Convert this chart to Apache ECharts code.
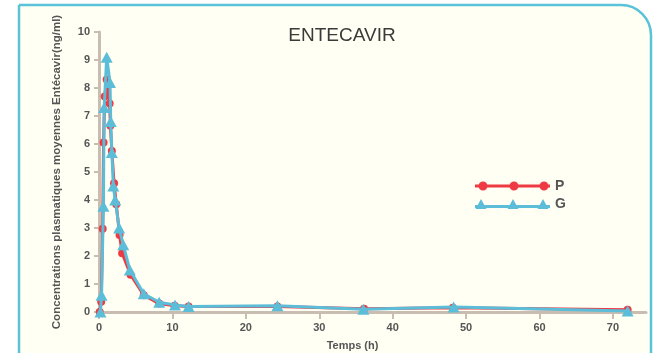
<!DOCTYPE html>
<html>
<head>
<meta charset="utf-8">
<script src="https://cdn.jsdelivr.net/npm/echarts@6/dist/echarts.min.js"></script>
<style>
html,body{margin:0;padding:0;background:#ffffff;}
#chart{width:653px;height:353px;}
</style>
</head>
<body>
<div id="chart"></div>
<script>
// ---- data ----
const titleText = 'ENTECAVIR';
const yAxisName = 'Concentrations plasmatiques moyennes Entécavir(ng/ml)';
const xAxisName = 'Temps (h)';
const seriesNames = ['P', 'G'];
const xTicks = [0, 10, 20, 30, 40, 50, 60, 70];

const pTime = [0.1, 0.3, 0.5, 0.62, 0.78, 1.05, 1.45, 1.55, 1.75, 2.05, 2.35, 2.8, 3.15, 4.3, 6.1, 8.2, 10.3, 12.2, 24.3, 36.1, 48.2, 72];
const pConc = [0, 0.37, 2.97, 6.05, 7.7, 8.3, 7.45, 6.65, 5.75, 4.6, 3.85, 2.75, 2.1, 1.33, 0.6, 0.3, 0.22, 0.2, 0.2, 0.12, 0.15, 0.08];

const gTime = [0.2, 0.35, 0.6, 0.7, 1.05, 1.5, 1.6, 1.75, 1.95, 2.2, 2.75, 3.3, 4.2, 6.1, 8.2, 10.35, 12.2, 24.3, 36, 48.3, 72];
const gConc = [0, 0.6, 3.78, 7.3, 9.1, 8.2, 6.8, 5.7, 4.5, 4.0, 3.0, 2.4, 1.5, 0.65, 0.35, 0.25, 0.2, 0.22, 0.1, 0.18, 0.04];

const pData = pTime.map((t, i) => [t, pConc[i]]);
const gData = gTime.map((t, i) => [t, gConc[i]]);

const RED = '#ee3a43';
const BLUE = '#5cbdd8';
const AXIS = '#c9bdb1';
const TXT = '#555555';
const FONT = 'Liberation Sans, Arial, sans-serif';

function circ(cx, cy, r) {
  return 'M' + (cx - r) + ',' + cy + 'a' + r + ',' + r + ' 0 1,1 ' + (2 * r) + ',0a' + r + ',' + r + ' 0 1,1 ' + (-2 * r) + ',0Z';
}
function tri(cx) {
  return 'M' + (cx - 5.5) + ',10L' + cx + ',0L' + (cx + 5.5) + ',10Z';
}
const pIcon = 'path://M0,3.5L75,3.5L75,6.5L0,6.5Z' + circ(8, 5, 4.5) + circ(39, 5, 4.5) + circ(69, 5, 4.5);
const gIcon = 'path://M0,6L75,6L75,9L0,9Z' + tri(6) + tri(38) + tri(68);

const chart = echarts.init(document.getElementById('chart'), null, {renderer: 'canvas'});
chart.setOption({
  backgroundColor: '#ffffff',
  animation: false,
  graphic: [{
    type: 'rect',
    z: -100,
    silent: true,
    shape: {x: 19, y: 5, width: 632, height: 400, r: [0, 30, 0, 0]},
    style: {fill: '#fffff3', stroke: '#5bc3d9', lineWidth: 2.5}
  }],
  title: {
    text: titleText,
    left: 337,
    top: 21,
    textAlign: 'center',
    textStyle: {fontFamily: FONT, fontSize: 19, fontWeight: 'normal', color: '#3a3a3a'}
  },
  legend: {
    data: [
      {name: seriesNames[0], icon: pIcon},
      {name: seriesNames[1], icon: gIcon}
    ],
    orient: 'vertical',
    left: 470,
    top: 174,
    itemWidth: 75,
    itemHeight: 10,
    itemGap: 4,
    textStyle: {fontFamily: FONT, fontSize: 14, fontWeight: 'bold', color: TXT, lineHeight: 13}
  },
  grid: {left: 99, right: 7, top: 32, bottom: 41, containLabel: false, outerBoundsMode: 'none'},
  xAxis: {
    type: 'value',
    min: 0,
    max: 74.5,
    interval: 10,
    name: xAxisName,
    nameLocation: 'middle',
    nameGap: 28,
    nameTextStyle: {fontFamily: FONT, fontSize: 11, fontWeight: 'bold', color: TXT, padding: [0, 40, 0, 0]},
    axisLine: {show: true, onZero: false, lineStyle: {color: AXIS, width: 3}},
    axisTick: {show: true, length: 7, lineStyle: {color: AXIS, width: 2}, customValues: xTicks},
    axisLabel: {fontFamily: FONT, fontSize: 11, fontWeight: 'bold', color: TXT, margin: 10, customValues: xTicks},
    splitLine: {show: false}
  },
  yAxis: {
    type: 'value',
    min: 0,
    max: 10,
    interval: 1,
    name: yAxisName,
    nameLocation: 'middle',
    nameGap: 36,
    nameRotate: 90,
    nameTextStyle: {fontFamily: FONT, fontSize: 11.5, fontWeight: 'bold', color: TXT},
    axisLine: {show: true, onZero: false, lineStyle: {color: AXIS, width: 3}},
    axisTick: {show: true, length: 5, lineStyle: {color: AXIS, width: 2}},
    axisLabel: {fontFamily: FONT, fontSize: 11, fontWeight: 'bold', color: TXT, margin: 9},
    splitLine: {show: false}
  },
  series: [
    {
      name: seriesNames[0],
      type: 'line',
      data: pData,
      color: RED,
      symbol: 'circle',
      symbolSize: 8,
      lineStyle: {width: 3, color: RED},
      itemStyle: {color: RED},
      clip: false,
      z: 3
    },
    {
      name: seriesNames[1],
      type: 'line',
      data: gData,
      color: BLUE,
      symbol: 'triangle',
      symbolSize: [12, 11],
      lineStyle: {width: 3, color: BLUE},
      itemStyle: {color: BLUE},
      clip: false,
      z: 4
    }
  ]
});
</script>
</body>
</html>
